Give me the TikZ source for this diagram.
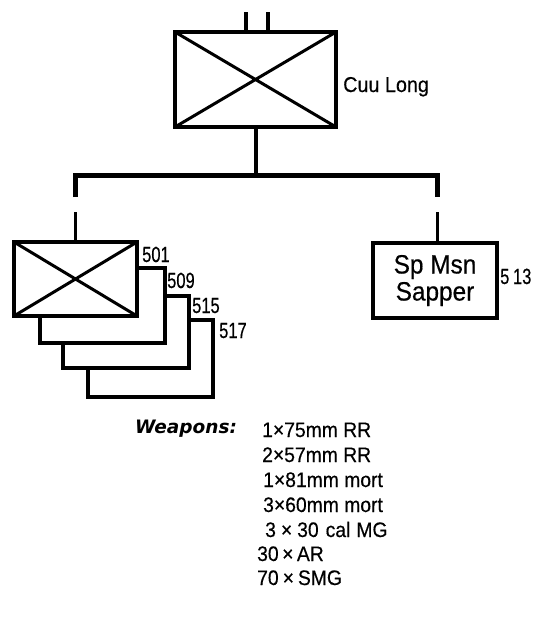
\documentclass[tikz,border=0pt]{standalone}
\usepackage{fontspec}
\setmainfont{Liberation Sans}
\newfontfamily\numfont[FakeStretch=0.75,FakeBold=0.4]{Liberation Sans}
\newfontfamily\condfont[FakeStretch=0.92,FakeBold=0.4]{Liberation Sans}
\newfontfamily\wfont{DejaVu Sans}
\begin{document}
\begin{tikzpicture}[x=1pt,y=-1pt,
  box/.style={draw, fill=white, line width=3.5pt, inner sep=0pt, outer sep=0pt},
  crossline/.style={line width=3pt},
  thickline/.style={line width=5pt},
  thinline/.style={line width=3pt},
  lbl/.style={inner sep=0pt, anchor=base west},
  numlbl/.style={lbl, font=\numfont\fontsize{22}{24}\selectfont},
  wlist/.style={lbl, font=\condfont\fontsize{21}{24}\selectfont}]
\useasboundingbox (0,0) rectangle (535,632);

% headquarters box
\node[box, minimum width=161pt, minimum height=95pt] (hq) at (255.5,79.5) {};
\draw[crossline] (hq.north west) -- (hq.south east) (hq.north east) -- (hq.south west);
\coordinate (t1) at (246,12);
\coordinate (t2) at (268,12);
\draw[line width=3.5pt] (t1) -- (t1 |- hq.north);
\draw[line width=3.5pt] (t2) -- (t2 |- hq.north);
\node[lbl, font=\condfont\fontsize{21.5}{24}\selectfont] (cuu) at (343,92) {Cuu Long};

% bar
\coordinate (bar) at (255.5,175);
\coordinate (bl) at (75,175);
\coordinate (br) at (437,175);
\coordinate (bld) at (75,197);
\coordinate (brd) at (437,197);
\draw[line width=4pt] (hq.south) -- (bar);
\draw[thickline] (bld) -- (bl) -- (br) -- (brd);

% stacked battalions (back to front)
\node[box, minimum width=125pt, minimum height=77pt] (b4) at (150.5,358.5) {};
\node[box, minimum width=126pt, minimum height=72pt] (b3) at (126,332) {};
\node[box, minimum width=125pt, minimum height=75pt] (b2) at (102.5,305.5) {};
\node[box, minimum width=123pt, minimum height=74pt] (b1) at (75.5,279) {};
\draw[crossline] (b1.north west) -- (b1.south east) (b1.north east) -- (b1.south west);

\node[numlbl] (n501) at (142,262) {501};
\node[numlbl] (n509) at (167,288) {509};
\node[numlbl] (n515) at (192,313) {515};
\node[numlbl] (n517) at (219,338) {517};

% sapper box
\node[box, minimum width=124pt, minimum height=75pt, align=center,
      font=\condfont\fontsize{26.5}{27}\selectfont] (sp) at (435,280.5) {Sp Msn\\Sapper};
\node[lbl, font=\numfont\fontsize{22}{24}\selectfont] (n513) at (500,284) {5\,13};

% lower connectors
\coordinate (ll) at (75,212);
\coordinate (rl) at (437,212);
\draw[thinline] (ll) -- (ll |- b1.north);
\draw[thinline] (rl) -- (rl |- sp.north);

% weapons
\node[lbl, font=\wfont\bfseries\itshape\fontsize{18.5}{22}\selectfont] (wp) at (135,433) {Weapons:};
\node[wlist] (w1) at (262,437) {1×75mm RR};
\node[wlist] (w2) at (262,462) {2×57mm RR};
\node[wlist] (w3) at (263,487) {1×81mm mort};
\node[wlist] (w4) at (263,512) {3×60mm mort};
\node[wlist] (w5) at (265,537) {3\hspace{5pt}×\hspace{5pt}30\hspace{7pt}cal\hspace{6pt}MG};
\node[wlist] (w6) at (257,561) {30\,×\,AR};
\node[wlist] (w7) at (257,585) {70\hspace{4pt}×\hspace{4pt}SMG};
\end{tikzpicture}
\end{document}
